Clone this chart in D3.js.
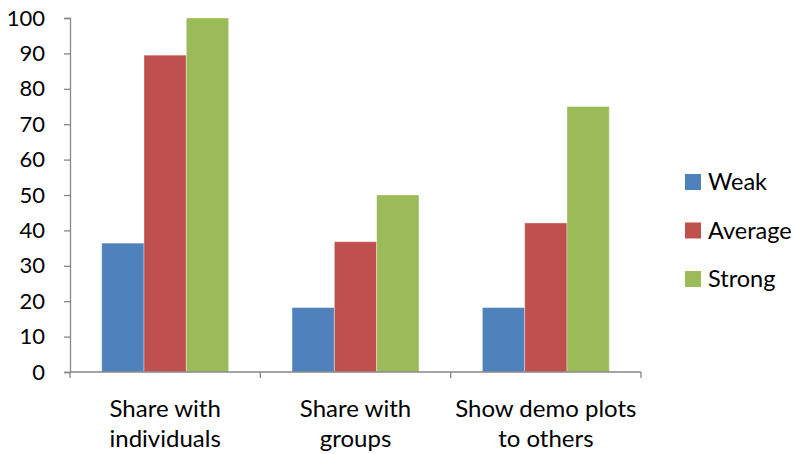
<!DOCTYPE html>
<html>
<head>
<meta charset="utf-8">
<script src="https://cdn.jsdelivr.net/npm/d3@7"></script>
<style>
  html, body { margin: 0; padding: 0; background: #fff; }
  svg text { font-family: Lato, "Open Sans", sans-serif; fill: #000; }
</style>
</head>
<body>
<svg id="chart" width="794" height="454"></svg>
<script>
// Categories (each label split into its two display lines)
const categories = ["Share with individuals", "Share with groups", "Show demo plots to others"];
const categoryLines = [["Share with", "individuals"], ["Share with", "groups"], ["Show demo plots", "to others"]];
const seriesNames = ["Weak", "Average", "Strong"];
const seriesColors = ["#4F81BD", "#C0504D", "#9BBB59"];
// Percent values per series, in category order
const weakValues = [36.4, 18.2, 18.2];
const averageValues = [89.5, 36.8, 42.1];
const strongValues = [100, 50, 75];
const yTicks = [0, 10, 20, 30, 40, 50, 60, 70, 80, 90, 100];

const seriesValues = [weakValues, averageValues, strongValues];
const rows = categories.map((c, i) => ({
  category: c,
  values: seriesNames.map((s, j) => ({ series: s, value: seriesValues[j][i] }))
}));

const svg = d3.select("#chart");
const margin = { left: 70, right: 153, top: 18, bottom: 82 };
const W = 794, H = 454;
const plotW = W - margin.left - margin.right;
const plotH = H - margin.top - margin.bottom;
const g = svg.append("g").attr("transform", `translate(${margin.left},${margin.top})`);

const x0 = d3.scaleBand().domain(categories).range([0, plotW]).paddingInner(0).paddingOuter(0);
// Bars occupy 3 of 4.5 bar-widths per category (150% gap)
const groupPad = x0.bandwidth() * (1.5 / 4.5) / 2;
const x1 = d3.scaleBand().domain(seriesNames).range([groupPad, x0.bandwidth() - groupPad]).padding(0);
const y = d3.scaleLinear().domain([0, 100]).range([plotH, 0]);
const color = d3.scaleOrdinal().domain(seriesNames).range(seriesColors);

// Bars
g.selectAll("g.cat").data(rows).join("g")
  .attr("class", "cat")
  .attr("transform", d => `translate(${x0(d.category)},0)`)
  .selectAll("rect").data(d => d.values).join("rect")
  .attr("x", d => x1(d.series))
  .attr("y", d => y(d.value))
  .attr("width", x1.bandwidth())
  .attr("height", d => plotH - y(d.value))
  .attr("fill", d => color(d.series))
  .attr("stroke", "rgba(255,255,255,0.35)")
  .attr("stroke-width", 1);

const axisColor = "#868686";

// Y axis
const yAxis = g.append("g")
  .call(d3.axisLeft(y).tickValues(yTicks).tickSize(6).tickPadding(19).tickFormat(d3.format("d")));
yAxis.select(".domain").attr("stroke", axisColor).attr("stroke-width", 1.3);
yAxis.selectAll(".tick line").attr("stroke", axisColor).attr("stroke-width", 1.3);
yAxis.selectAll(".tick text").attr("font-size", 22).attr("font-family", "Lato, sans-serif").attr("fill", "#000");

// X axis: tick marks at category boundaries
const xAxisG = g.append("g").attr("transform", `translate(0,${plotH})`);
xAxisG.append("line").attr("x1", 0).attr("x2", plotW).attr("y1", 0).attr("y2", 0)
  .attr("stroke", axisColor).attr("stroke-width", 1.3);
const boundaries = categories.map(c => x0(c)).concat([plotW]);
xAxisG.selectAll("line.tk").data(boundaries).join("line")
  .attr("class", "tk")
  .attr("x1", d => d).attr("x2", d => d).attr("y1", 0).attr("y2", 6)
  .attr("stroke", axisColor).attr("stroke-width", 1.3);

// Category labels, two lines each
xAxisG.selectAll("text.cl").data(categories).join("text")
  .attr("class", "cl")
  .attr("text-anchor", "middle")
  .attr("font-size", 24)
  .attr("transform", d => `translate(${x0(d) + x0.bandwidth() / 2},45)`)
  .each(function (d, i) {
    d3.select(this).selectAll("tspan").data(categoryLines[i]).join("tspan")
      .attr("x", 0).attr("dy", (t, k) => k === 0 ? 0 : 30).text(t => t);
  });

// Legend
const legend = svg.append("g").attr("transform", "translate(685,174)");
const items = legend.selectAll("g").data(seriesNames).join("g")
  .attr("transform", (d, i) => `translate(0,${i * 48.5})`);
items.append("rect").attr("width", 16).attr("height", 16).attr("fill", d => color(d));
items.append("text").attr("x", 23).attr("y", 16).attr("font-size", 23.5).text(d => d);
</script>
</body>
</html>
